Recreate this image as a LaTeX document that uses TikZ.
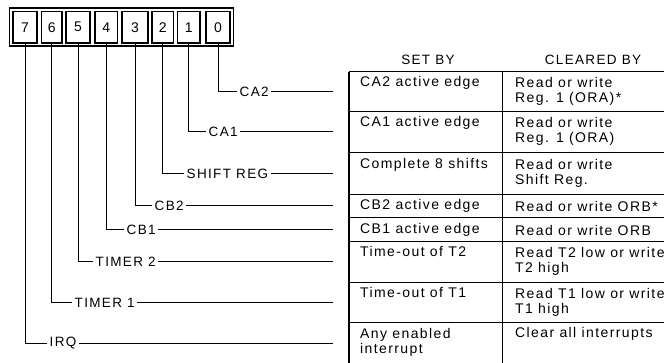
\documentclass[tikz,border=0pt]{standalone}
\usepackage{fontspec}
\setmainfont{Liberation Sans}[LetterSpace=10]
\begin{document}
\begin{tikzpicture}[x=1pt,y=-1pt,
  cell/.style={draw, line width=1.4pt, inner sep=0pt, outer sep=0pt, minimum height=31.5pt, font=\fontsize{14}{16}\selectfont},
  lbl/.style={inner sep=2.5pt, anchor=west, font=\fontsize{13.5}{15}\selectfont},
  wire/.style={line width=1pt},
  rule/.style={line width=1pt},
  txt/.style={inner sep=0pt, anchor=west, align=left, font=\fontsize{14}{15}\selectfont},
  hdr/.style={inner sep=0pt, font=\fontsize{13.5}{15}\selectfont}]
\useasboundingbox (0,0) rectangle (664,363);
\clip (0,0) rectangle (664,363);
% register
\draw[line width=1.5pt] (9.5,8) rectangle (233.5,46);
\node[cell, minimum width=24pt]   (b7) at (25,27.2)  {7};
\node[cell, minimum width=20.5pt] (b6) at (51.8,27.2) {6};
\node[cell, minimum width=24pt]   (b5) at (78,27.2)  {5};
\node[cell, minimum width=22.5pt] (b4) at (106.2,27.2) {4};
\node[cell, minimum width=26pt]   (b3) at (135,27.2) {3};
\node[cell, minimum width=21.5pt] (b2) at (162.7,27.2) {2};
\node[cell, minimum width=22.5pt] (b1) at (188.7,27.2) {1};
\node[cell, minimum width=24pt]   (b0) at (218,27.2) {0};
% labels
\node[lbl] (lca2) at (237,92)  {CA2};
\node[lbl] (lca1) at (206,132) {CA1};
\node[lbl] (lsr)  at (184,174) {SHIFT REG};
\node[lbl] (lcb2) at (152,206) {CB2};
\node[lbl] (lcb1) at (124,230) {CB1};
\node[lbl] (lt2)  at (93,262)  {TIMER 2};
\node[lbl] (lt1)  at (72,303)  {TIMER 1};
\node[lbl] (lirq) at (47,343)  {IRQ};
\foreach \b/\l/\y in {b0/lca2/92, b1/lca1/132, b2/lsr/174, b3/lcb2/206, b4/lcb1/230, b5/lt2/262, b6/lt1/303, b7/lirq/343}{
  \coordinate (e\l) at (333,\y);
  \draw[wire] (\b.south) |- (\l.west);
  \draw[wire] (\l.east) -- (e\l);
}
% table
\node[hdr] (hset) at (428,60) {SET BY};
\node[hdr] (hclr) at (593,60) {CLEARED BY};
\foreach \y in {72,112,153,195,218,242,283,323}{
  \draw[rule] (349,\y) -- (664,\y);
}
\draw[line width=1.2pt] (349,72) -- (349,363);
\draw[rule] (502,72) -- (502,363);
\node[txt] (s1) at (360,91)  {CA2 active edge\\\strut};
\node[txt] (c1) at (515,91)  {Read or write\\Reg. 1 (ORA)*};
\node[txt] (s2) at (360,131) {CA1 active edge\\\strut};
\node[txt] (c2) at (515,131) {Read or write\\Reg. 1 (ORA)};
\node[txt] (s3) at (360,173) {Complete 8 shifts\\\strut};
\node[txt] (c3) at (515,173) {Read or write\\Shift Reg.};
\node[txt] (s4) at (360,206) {CB2 active edge};
\node[txt] (c4) at (515,206) {Read or write ORB*};
\node[txt] (s5) at (360,230) {CB1 active edge};
\node[txt] (c5) at (515,230) {Read or write ORB};
\node[txt] (s6) at (360,261) {Time-out of T2\\\strut};
\node[txt] (c6) at (515,261) {Read T2 low or write\\T2 high};
\node[txt] (s7) at (360,302) {Time-out of T1\\\strut};
\node[txt] (c7) at (515,302) {Read T1 low or write\\T1 high};
\node[txt] (s8) at (360,342) {Any enabled\\interrupt};
\node[txt] (c8) at (515,342) {Clear all interrupts\\\strut};
\end{tikzpicture}
\end{document}
